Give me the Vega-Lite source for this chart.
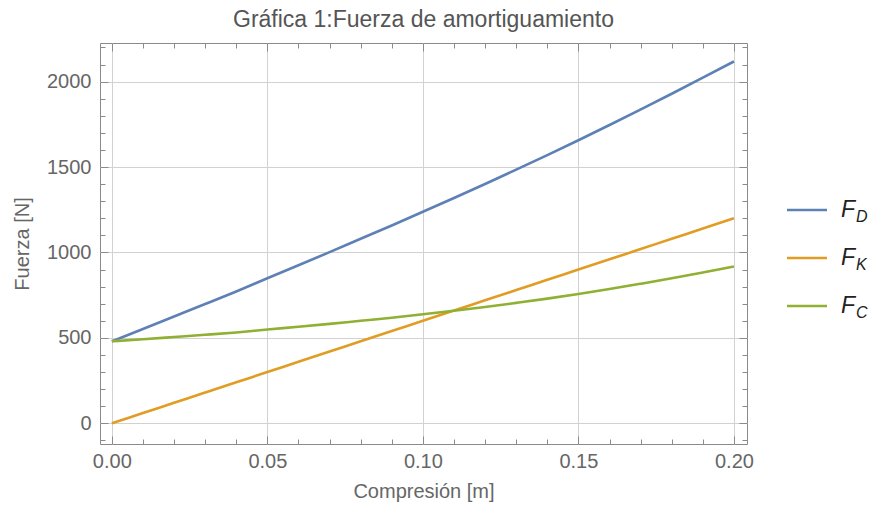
{
  "$schema": "https://vega.github.io/schema/vega-lite/v6.json",
  "background": "white",
  "padding": {"left": 12, "top": 8, "right": 0, "bottom": 0},
  "config": {
    "font": "Liberation Sans",
    "view": {"stroke": "#8a8a8a", "strokeWidth": 1}
  },
  "datasets": {
    "curvas": [
      {"x": 0.00, "serie": "D", "F": 480}, {"x": 0.00, "serie": "K", "F": 0}, {"x": 0.00, "serie": "C", "F": 480},
      {"x": 0.01, "serie": "D", "F": 552}, {"x": 0.01, "serie": "K", "F": 60}, {"x": 0.01, "serie": "C", "F": 492},
      {"x": 0.02, "serie": "D", "F": 625}, {"x": 0.02, "serie": "K", "F": 120}, {"x": 0.02, "serie": "C", "F": 505},
      {"x": 0.03, "serie": "D", "F": 698}, {"x": 0.03, "serie": "K", "F": 180}, {"x": 0.03, "serie": "C", "F": 518},
      {"x": 0.04, "serie": "D", "F": 772}, {"x": 0.04, "serie": "K", "F": 240}, {"x": 0.04, "serie": "C", "F": 532},
      {"x": 0.05, "serie": "D", "F": 849}, {"x": 0.05, "serie": "K", "F": 300}, {"x": 0.05, "serie": "C", "F": 549},
      {"x": 0.06, "serie": "D", "F": 925}, {"x": 0.06, "serie": "K", "F": 360}, {"x": 0.06, "serie": "C", "F": 565},
      {"x": 0.07, "serie": "D", "F": 1002}, {"x": 0.07, "serie": "K", "F": 420}, {"x": 0.07, "serie": "C", "F": 582},
      {"x": 0.08, "serie": "D", "F": 1080}, {"x": 0.08, "serie": "K", "F": 480}, {"x": 0.08, "serie": "C", "F": 600},
      {"x": 0.09, "serie": "D", "F": 1158}, {"x": 0.09, "serie": "K", "F": 540}, {"x": 0.09, "serie": "C", "F": 618},
      {"x": 0.10, "serie": "D", "F": 1238}, {"x": 0.10, "serie": "K", "F": 600}, {"x": 0.10, "serie": "C", "F": 638},
      {"x": 0.11, "serie": "D", "F": 1319}, {"x": 0.11, "serie": "K", "F": 660}, {"x": 0.11, "serie": "C", "F": 659},
      {"x": 0.12, "serie": "D", "F": 1401}, {"x": 0.12, "serie": "K", "F": 720}, {"x": 0.12, "serie": "C", "F": 681},
      {"x": 0.13, "serie": "D", "F": 1485}, {"x": 0.13, "serie": "K", "F": 780}, {"x": 0.13, "serie": "C", "F": 705},
      {"x": 0.14, "serie": "D", "F": 1570}, {"x": 0.14, "serie": "K", "F": 840}, {"x": 0.14, "serie": "C", "F": 730},
      {"x": 0.15, "serie": "D", "F": 1657}, {"x": 0.15, "serie": "K", "F": 900}, {"x": 0.15, "serie": "C", "F": 757},
      {"x": 0.16, "serie": "D", "F": 1746}, {"x": 0.16, "serie": "K", "F": 960}, {"x": 0.16, "serie": "C", "F": 786},
      {"x": 0.17, "serie": "D", "F": 1837}, {"x": 0.17, "serie": "K", "F": 1020}, {"x": 0.17, "serie": "C", "F": 817},
      {"x": 0.18, "serie": "D", "F": 1929}, {"x": 0.18, "serie": "K", "F": 1080}, {"x": 0.18, "serie": "C", "F": 849},
      {"x": 0.19, "serie": "D", "F": 2023}, {"x": 0.19, "serie": "K", "F": 1140}, {"x": 0.19, "serie": "C", "F": 883},
      {"x": 0.20, "serie": "D", "F": 2118}, {"x": 0.20, "serie": "K", "F": 1200}, {"x": 0.20, "serie": "C", "F": 918}
    ],
    "leyenda": [
      {"serie": "D"}, {"serie": "K"}, {"serie": "C"}
    ]
  },
  "spacing": 31,
  "hconcat": [
    {
      "width": 647,
      "height": 401,
      "title": {
        "text": "Gráfica 1:Fuerza de amortiguamiento",
        "fontSize": 23,
        "fontWeight": "normal",
        "color": "#555555",
        "anchor": "middle",
        "offset": 11
      },
      "data": {"name": "curvas"},
      "layer": [
        {
          "mark": {"type": "line", "strokeWidth": 2.6, "interpolate": "monotone", "clip": true},
          "encoding": {
            "x": {
              "field": "x", "type": "quantitative",
              "scale": {"domain": [-0.0038, 0.2042], "nice": false, "zero": false},
              "axis": {
                "orient": "bottom",
                "values": [0, 0.05, 0.1, 0.15, 0.2],
                "format": ".2f",
                "ticks": false, "domain": false,
                "grid": true, "gridColor": "#d2d2d2", "gridWidth": 1,
                "labelFontSize": 20, "labelColor": "#666666", "labelPadding": 7,
                "labelFlush": false, "labelOverlap": false,
                "title": "Compresión [m]", "titleFontSize": 20, "titleFontWeight": "normal",
                "titleColor": "#666666", "titlePadding": 10
              }
            },
            "y": {
              "field": "F", "type": "quantitative",
              "scale": {"domain": [-121, 2226], "nice": false, "zero": false},
              "axis": {
                "orient": "left",
                "values": [0, 500, 1000, 1500, 2000],
                "format": "d",
                "ticks": false, "domain": false,
                "grid": true, "gridColor": "#d2d2d2", "gridWidth": 1,
                "labelFontSize": 20, "labelColor": "#666666", "labelPadding": 9,
                "labelFlush": false, "labelOverlap": false,
                "title": "Fuerza [N]", "titleFontSize": 20, "titleFontWeight": "normal",
                "titleColor": "#666666", "titlePadding": 14
              }
            },
            "color": {
              "field": "serie", "type": "nominal",
              "scale": {"domain": ["D", "K", "C"], "range": ["#5e81b5", "#e19c24", "#8fb032"]},
              "legend": null
            }
          }
        },
        {
          "mark": {"type": "line", "strokeOpacity": 0},
          "encoding": {
            "x": {
              "field": "x", "type": "quantitative",
              "scale": {"domain": [-0.0038, 0.2042], "nice": false, "zero": false},
              "axis": {
                "orient": "bottom",
                "values": [0, 0.01, 0.02, 0.03, 0.04, 0.05, 0.06, 0.07, 0.08, 0.09, 0.1, 0.11, 0.12, 0.13, 0.14, 0.15, 0.16, 0.17, 0.18, 0.19, 0.2],
                "labels": false, "domain": false, "grid": false, "title": null,
                "tickColor": "#8a8a8a", "tickWidth": 1,
                "tickSize": {"condition": {"test": "abs(datum.value*20 - round(datum.value*20)) < 0.000001", "value": -8}, "value": -5}
              }
            },
            "y": {
              "field": "F", "type": "quantitative",
              "scale": {"domain": [-121, 2226], "nice": false, "zero": false},
              "axis": {
                "orient": "left",
                "values": [-100, 0, 100, 200, 300, 400, 500, 600, 700, 800, 900, 1000, 1100, 1200, 1300, 1400, 1500, 1600, 1700, 1800, 1900, 2000, 2100, 2200],
                "labels": false, "domain": false, "grid": false, "title": null,
                "tickColor": "#8a8a8a", "tickWidth": 1,
                "tickSize": {"condition": {"test": "datum.value % 500 === 0", "value": -8}, "value": -5}
              }
            },
            "detail": {"field": "serie", "type": "nominal"}
          }
        },
        {
          "mark": {"type": "line", "strokeOpacity": 0},
          "encoding": {
            "x": {
              "field": "x", "type": "quantitative",
              "scale": {"domain": [-0.0038, 0.2042], "nice": false, "zero": false},
              "axis": {
                "orient": "top",
                "values": [0, 0.01, 0.02, 0.03, 0.04, 0.05, 0.06, 0.07, 0.08, 0.09, 0.1, 0.11, 0.12, 0.13, 0.14, 0.15, 0.16, 0.17, 0.18, 0.19, 0.2],
                "labels": false, "domain": false, "grid": false, "title": null,
                "tickColor": "#8a8a8a", "tickWidth": 1,
                "tickSize": {"condition": {"test": "abs(datum.value*20 - round(datum.value*20)) < 0.000001", "value": -8}, "value": -5}
              }
            },
            "y": {
              "field": "F", "type": "quantitative",
              "scale": {"domain": [-121, 2226], "nice": false, "zero": false},
              "axis": {
                "orient": "right",
                "values": [-100, 0, 100, 200, 300, 400, 500, 600, 700, 800, 900, 1000, 1100, 1200, 1300, 1400, 1500, 1600, 1700, 1800, 1900, 2000, 2100, 2200],
                "labels": false, "domain": false, "grid": false, "title": null,
                "tickColor": "#8a8a8a", "tickWidth": 1,
                "tickSize": {"condition": {"test": "datum.value % 500 === 0", "value": -8}, "value": -5}
              }
            },
            "detail": {"field": "serie", "type": "nominal"}
          }
        }
      ],
      "resolve": {"axis": {"x": "independent", "y": "independent"}}
    },
    {
      "width": 94,
      "height": 401,
      "view": {"stroke": null},
      "data": {"name": "leyenda"},
      "encoding": {
        "y": {
          "field": "serie", "type": "nominal",
          "scale": {"type": "point", "domain": ["D", "K", "C"], "range": [167, 263], "padding": 0},
          "axis": null
        }
      },
      "layer": [
        {
          "mark": {"type": "rule", "strokeWidth": 2.6},
          "encoding": {
            "x": {"datum": 0, "type": "quantitative", "scale": {"domain": [0, 94], "nice": false, "zero": false}, "axis": null},
            "x2": {"datum": 40},
            "color": {
              "field": "serie", "type": "nominal",
              "scale": {"domain": ["D", "K", "C"], "range": ["#5e81b5", "#e19c24", "#8fb032"]},
              "legend": null
            }
          }
        },
        {
          "mark": {"type": "text", "text": "F", "fontStyle": "italic", "fontSize": 23, "align": "left", "baseline": "middle", "color": "#222222"},
          "encoding": {
            "x": {"datum": 54, "type": "quantitative", "scale": {"domain": [0, 94], "nice": false, "zero": false}, "axis": null}
          }
        },
        {
          "mark": {"type": "text", "fontStyle": "italic", "fontSize": 16, "align": "left", "baseline": "middle", "dx": 15, "dy": 7, "color": "#222222"},
          "encoding": {
            "x": {"datum": 54, "type": "quantitative", "scale": {"domain": [0, 94], "nice": false, "zero": false}, "axis": null},
            "text": {"field": "serie", "type": "nominal"}
          }
        }
      ]
    }
  ]
}
